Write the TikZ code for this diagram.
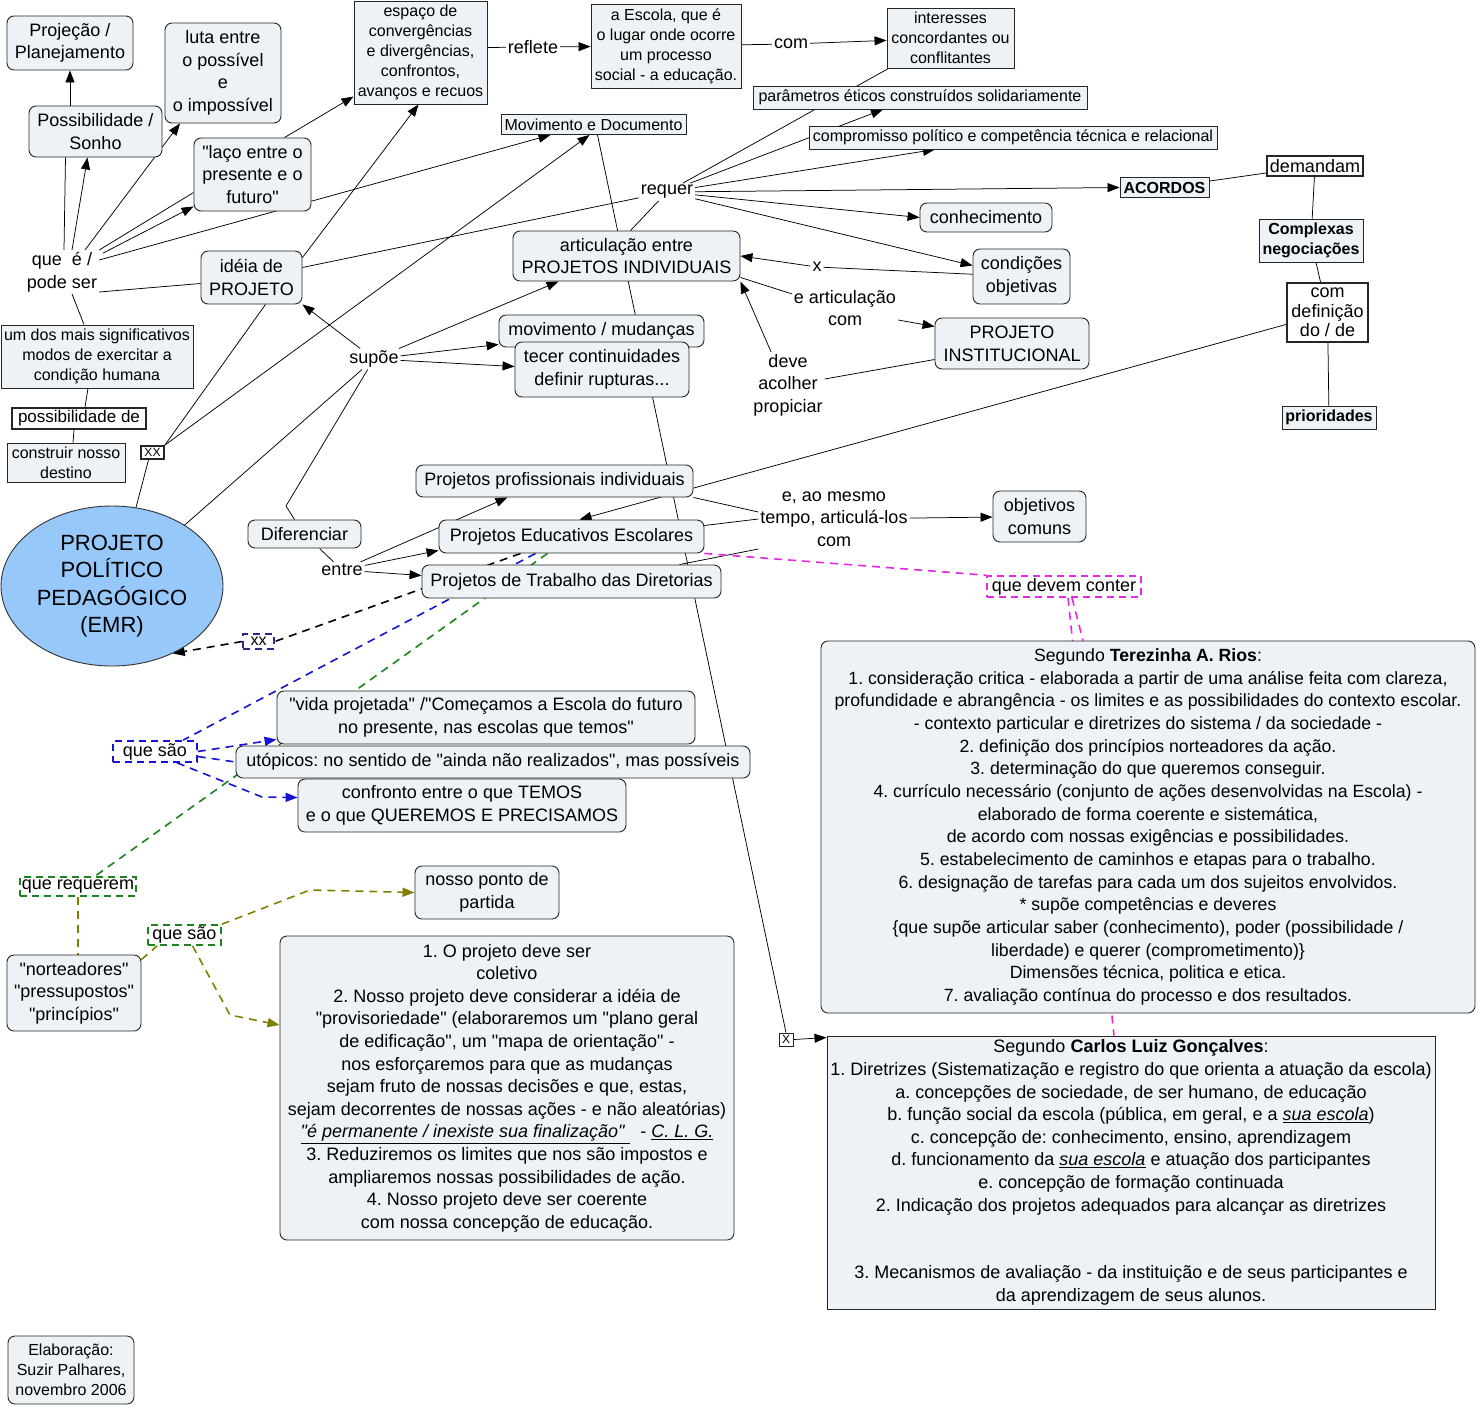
\documentclass[tikz,border=0pt]{standalone}
\usepackage{fontspec}
\setmainfont{Liberation Sans}
\usetikzlibrary{arrows.meta,shapes.geometric}
\pgfdeclarelayer{bg}
\pgfsetlayers{bg,main}
\frenchspacing
\definecolor{nfill}{RGB}{236,242,245}
\definecolor{pppfill}{RGB}{150,200,250}
\definecolor{dblue}{RGB}{20,20,210}
\definecolor{dgreen}{RGB}{30,130,30}
\definecolor{dolive}{RGB}{128,128,0}
\definecolor{dmag}{RGB}{230,40,230}
\definecolor{dnavy}{RGB}{40,40,140}
\newcommand\myq{\textquotedbl}
\newcommand\myN{\fontsize{18}{22.6}\selectfont}
\newcommand\myS{\fontsize{16}{20}\selectfont}
\newcommand\myB{\fontsize{16}{19.5}\selectfont\bfseries}
\newcommand\myC{\fontsize{18}{19.5}\selectfont}
\newcommand\myP{\fontsize{17}{19}\selectfont}
\newcommand\myL{\fontsize{22}{27.5}\selectfont}
\newcommand\myT{\fontsize{17.7}{22.67}\selectfont}
\newcommand\myX{\fontsize{12}{13}\selectfont}
\tikzset{
 base/.style={draw=black!85, line width=0.9pt, fill=nfill, align=center, inner sep=2pt, font=\myN},
 rbox/.style={base, rounded corners=7pt},
 sbox/.style={base},
 tbox/.style={base, fill=white, line width=2.2pt},
 lbl/.style={align=center, inner sep=2pt, font=\myN},
 dbox/.style={draw=#1, dash pattern=on 7pt off 5pt, line width=1.6pt, fill=white, inner sep=1pt, font=\myN},
 ln/.style={draw=black, line width=0.75pt},
 ar/.style={ln, -{Triangle[length=12pt,width=9pt]}},
 dl/.style={draw=#1, line width=1.6pt, dash pattern=on 8pt off 6pt},
 da/.style={dl=#1, -{Triangle[length=12pt,width=9pt]}},
}
\begin{document}
\begin{tikzpicture}[x=1pt,y=-1pt]
\useasboundingbox (0,0) rectangle (1478,1406);
% ---------- nodes ----------
\node[rbox, minimum width=126, minimum height=54] (proj) at (70,43) {Projeção /\\Planejamento};
\node[rbox, minimum width=116, minimum height=100] (luta) at (223,73) {luta entre\\o possível\\e\\o impossível};
\node[sbox, font=\myS, minimum width=133, minimum height=103] (espaco) at (420.5,52.5) {espaço de\\convergências\\e divergências,\\confrontos,\\avanços e recuos};
\node[lbl] (reflete) at (533,47) {reflete};
\node[sbox, font=\myS, minimum width=150, minimum height=84] (escola) at (666,46) {a Escola, que é\\o lugar onde ocorre\\um processo\\social - a educação.};
\node[lbl] (com1) at (791,44) {com};
\node[sbox, font=\myS, minimum width=127, minimum height=60] (interesses) at (950.5,38) {interesses\\concordantes ou\\conflitantes};
\node[sbox, font=\myS, minimum width=334, minimum height=23] (param) at (920,97.5) {parâmetros éticos construídos solidariamente};
\node[sbox, font=\myS, minimum width=185, minimum height=20] (movdoc) at (593.5,124.5) {Movimento e Documento};
\node[sbox, font=\myS, minimum width=408, minimum height=23] (comprom) at (1013,137.5) {compromisso político e competência técnica e relacional};
\node[rbox, minimum width=133, minimum height=51] (possib) at (95.5,131.5) {Possibilidade /\\Sonho};
\node[rbox, minimum width=117, minimum height=73] (laco) at (252.5,174.5) {\myq laço entre o\\presente e o\\futuro\myq};
\node[lbl] (requer) at (667,192) {requer};
\node[sbox, font=\myB, minimum width=89, minimum height=20] (acordos) at (1164.5,187.5) {ACORDOS};
\node[tbox, minimum width=96, minimum height=20] (demandam) at (1315,166) {demandam};
\node[sbox, font=\myB, minimum width=104, minimum height=43] (complexas) at (1311,240.5) {Complexas\\negociações};
\node[tbox, font=\myC, minimum width=81, minimum height=59] (comdef) at (1327.5,312.5) {com\\definição\\do / de};
\node[sbox, font=\myB, minimum width=94, minimum height=23] (prior) at (1329,417.5) {prioridades};
\node[rbox, minimum width=132, minimum height=29] (conhec) at (986,217.5) {conhecimento};
\node[rbox, minimum width=97, minimum height=55] (condic) at (1021.5,276.5) {condições\\objetivas};
\node[rbox, minimum width=227, minimum height=50] (artic) at (626.5,256) {articulação entre\\PROJETOS INDIVIDUAIS};
\node[lbl] (quee) at (62,272) {que~~é /\\pode ser};
\node[rbox, minimum width=101, minimum height=53] (ideia) at (251.5,277.5) {idéia de\\PROJETO};
\node[lbl] (xlbl) at (817,267) {x};
\node[lbl] (eartic) at (845,308) {e articulação\\com};
\node[rbox, minimum width=154, minimum height=51] (projinst) at (1012,343.5) {PROJETO\\INSTITUCIONAL};
\node[lbl] (deve) at (788,385) {deve\\acolher\\propiciar};
\node[rbox, minimum width=205, minimum height=32] (movmud) at (601.5,331) {movimento / mudanças};
\node[rbox, minimum width=174, minimum height=55] (tecer) at (602,369.5) {tecer continuidades\\definir rupturas...};
\node[lbl] (supoe) at (374,359) {supõe};
\node[sbox, font=\myS, minimum width=192, minimum height=63] (umdos) at (97,356.5) {um dos mais significativos\\modos de exercitar a\\condição humana};
\node[tbox, font=\myP, minimum width=134, minimum height=21] (possde) at (79,418.5) {possibilidade de};
\node[sbox, font=\myS, minimum width=118, minimum height=39] (construir) at (66,462.5) {construir nosso\\destino};
\node[tbox, font=\myX, line width=1.8pt, minimum width=23, minimum height=13, inner sep=0.5pt] (XX) at (152.5,452.5) {XX};
\node[ellipse, draw=black!80, line width=0.9pt, fill=pppfill, minimum width=222, minimum height=160, align=center, font=\myL, inner sep=0pt] (ppp) at (112,586) {PROJETO\\POLÍTICO\\PEDAGÓGICO\\(EMR)};
\node[rbox, minimum width=277, minimum height=32] (profis) at (554.5,481) {Projetos profissionais individuais};
\node[rbox, minimum width=113, minimum height=28] (difer) at (304.5,534) {Diferenciar};
\node[lbl] (eaomesmo) at (834,519) {e, ao mesmo\\tempo, articulá-los\\com};
\node[rbox, minimum width=93, minimum height=51] (objet) at (1039.5,516.5) {objetivos\\comuns};
\node[rbox, minimum width=265, minimum height=33] (educ) at (571.5,536.5) {Projetos Educativos Escolares};
\node[lbl] (entre) at (342,570) {entre};
\node[rbox, minimum width=299, minimum height=33] (trab) at (571.5,581.5) {Projetos de Trabalho das Diretorias};
\node[dbox=dmag, minimum width=154, minimum height=21] (devem) at (1064,586.5) {que devem conter};
\node[dbox=dnavy, font=\myS, minimum width=31, minimum height=15] (xx2) at (258.5,641.5) {xx};
\node[rbox, minimum width=418, minimum height=53] (vida) at (486,717.5) {\myq vida projetada\myq{} /\myq Começamos a Escola do futuro\\no presente, nas escolas que temos\myq};
\node[dbox=dblue, minimum width=84, minimum height=21] (quesao1) at (155,751.5) {que são};
\node[rbox, minimum width=514, minimum height=32] (utop) at (493,762) {utópicos: no sentido de \myq ainda não realizados\myq, mas possíveis};
\node[rbox, minimum width=328, minimum height=53] (confr) at (462,805.5) {confronto entre o que TEMOS\\e o que QUEREMOS E PRECISAMOS};
\node[dbox=dgreen, minimum width=116, minimum height=19] (quereq) at (78,886.5) {que requerem};
\node[rbox, minimum width=144, minimum height=53] (ponto) at (487,892.5) {nosso ponto de\\partida};
\node[dbox=dgreen, minimum width=73, minimum height=20] (quesao2) at (184.5,935) {que são};
\node[rbox, minimum width=134, minimum height=76] (nortea) at (74,993) {\myq norteadores\myq\\\myq pressupostos\myq\\\myq princípios\myq};
\node[rbox, minimum width=454, minimum height=304] (lista) at (507,1088) {1. O projeto deve ser\\coletivo\\2. Nosso projeto deve considerar a idéia de\\\myq provisoriedade\myq{} (elaboraremos um \myq plano geral\\de edificação\myq, um \myq mapa de orientação\myq{} -\\nos esforçaremos para que as mudanças\\sejam fruto de nossas decisões e que, estas,\\sejam decorrentes de nossas ações - e não aleatórias)\\\underline{\textit{\myq é permanente / inexiste sua finalização\myq~}}~ - \underline{\textit{C. L. G.}}\\3. Reduziremos os limites que nos são impostos e\\ampliaremos nossas possibilidades de ação.\\4. Nosso projeto deve ser coerente\\com nossa concepção de educação.};
\node[rbox, font=\myT, minimum width=654, minimum height=372] (terez) at (1148,827) {Segundo \textbf{Terezinha A. Rios}:\\1. consideração critica - elaborada a partir de uma análise feita com clareza,\\profundidade e abrangência - os limites e as possibilidades do contexto escolar.\\- contexto particular e diretrizes do sistema / da sociedade -\\2. definição dos princípios norteadores da ação.\\3. determinação do que queremos conseguir.\\4. currículo necessário (conjunto de ações desenvolvidas na Escola) -\\elaborado de forma coerente e sistemática,\\de acordo com nossas exigências e possibilidades.\\5. estabelecimento de caminhos e etapas para o trabalho.\\6. designação de tarefas para cada um dos sujeitos envolvidos.\\{}* supõe competências e deveres\\\{que supõe articular saber (conhecimento), poder (possibilidade /\\liberdade) e querer (comprometimento)\}\\Dimensões técnica, politica e etica.\\7. avaliação contínua do processo e dos resultados.};
\node[sbox, fill=white, font=\myX, line width=0.8pt, minimum width=14, minimum height=13, inner sep=0.5pt] (Xbox) at (786,1039.5) {X};
\node[sbox, minimum width=608, minimum height=273] (carlos) at (1131,1172.5) {Segundo \textbf{Carlos Luiz Gonçalves}:\\1. Diretrizes (Sistematização e registro do que orienta a atuação da escola)\\a. concepções de sociedade, de ser humano, de educação\\b. função social da escola (pública, em geral, e a \underline{\textit{sua escola}})\\c. concepção de: conhecimento, ensino, aprendizagem\\d. funcionamento da \underline{\textit{sua escola}} e atuação dos participantes\\e. concepção de formação continuada\\2. Indicação dos projetos adequados para alcançar as diretrizes\\\mbox{}\\\mbox{}\\3. Mecanismos de avaliação - da instituição e de seus participantes e\\da aprendizagem de seus alunos.};
\node[rbox, font=\myS, minimum width=126, minimum height=68] (elab) at (71,1370) {Elaboração:\\Suzir Palhares,\\novembro 2006};
\coordinate (k1) at (286,506);
\coordinate (k2) at (262,797);
\coordinate (k3) at (310,890);
\coordinate (k4) at (230,1015);
% ---------- connectors ----------
\begin{pgfonlayer}{bg}
\fill[white] (0,0) rectangle (1478,1406);
\draw[ar] (proj.south |- possib.north) -- (proj.south);
\draw[ln] ([xshift=2pt]quee.north) -- ([xshift=-30pt]possib.south);
\draw[ar] ([xshift=10pt]quee.north) -- ([xshift=-8pt]possib.south);
\draw[ar] ([xshift=23pt]quee.north) -- ([xshift=-43pt]luta.south);
\draw[ln] (quee.north east) -- ([yshift=-18pt]laco.west);
\draw[ar] ([xshift=4pt,yshift=-3pt]quee.north east) -- ([yshift=5pt]laco.south west);
\draw[ar] ([yshift=12pt]quee.east) -- ([xshift=-43pt]movdoc.south);
\draw[ln] ([yshift=-20pt]quee.east) -- ([yshift=-6pt]ideia.west);
\draw[ln] ([xshift=10pt]quee.south) -- ([xshift=-13pt]umdos.north);
\draw[ln] ([xshift=-9pt]umdos.south) -- ([xshift=6pt]possde.north);
\draw[ln] ([xshift=-5pt]possde.south) -- ([xshift=7pt]construir.north);
\draw[ar] ([yshift=-7pt]ideia.north east) -- ([xshift=-2pt]espaco.south);
\draw[ar] ([xshift=32pt]laco.north) -- ([yshift=-44pt]espaco.west);
\draw[ln] ([yshift=5pt]espaco.east) -- (reflete);
\draw[ar] (reflete) -- (escola);
\draw[ln] (escola) -- (com1);
\draw[ar] (com1) -- (interesses);
\draw[ln] (requer) -- ([xshift=-62pt]interesses.south);
\draw[ar] (requer) -- ([xshift=-37pt]param.south);
\draw[ar] (requer) -- ([xshift=-78pt]comprom.south);
\draw[ar] (requer) -- (acordos.west);
\draw[ar] (requer) -- (conhec.west);
\draw[ar] (requer) -- ([yshift=11pt]condic.west);
\draw[ln] ([yshift=10pt]ideia.east) -- (requer);
\draw[ln] ([xshift=4pt]artic.north) -- (requer);
\draw[ln] (acordos) -- (demandam);
\draw[ln] (demandam) -- (complexas);
\draw[ln] (complexas) -- (comdef);
\draw[ln] (comdef) -- (prior);
\draw[ar] ([yshift=-12pt]comdef.west) -- ([xshift=8pt]educ.north);
\draw[ln] (condic) -- (xlbl);
\draw[ar] (xlbl) -- (artic.east);
\draw[ln] ([yshift=4pt]artic.south east) -- ([yshift=-6pt]eartic.north west);
\draw[ar] ([yshift=-12pt]eartic.east) -- ([yshift=17pt]projinst.west);
\draw[ln] ([yshift=-16pt]projinst.west) -- ([yshift=6pt]deve.east);
\draw[ar] ([xshift=-17pt]deve.north) -- (artic.south east);
\draw[ln] ([xshift=4pt]movdoc.south) -- (Xbox.north);
\draw[ar] (Xbox.east) -- ([yshift=-2pt]carlos.north west);
\draw[ln] ([xshift=14pt]ideia.south) -- (XX.north east);
\draw[ar] (XX.north east) -- ([xshift=-4pt]movdoc.south);
\draw[ln] (ppp.73) -- ([xshift=-4pt]XX.south);
\draw[ar] (supoe) -- (ideia.south east);
\draw[ar] (supoe) -- ([xshift=-68pt]artic.south);
\draw[ar] (supoe) -- ([yshift=3pt]movmud.south west);
\draw[ar] (supoe) -- ([yshift=3pt]tecer.west);
\draw[ln] (ppp.40) -- (supoe);
\draw[ln] (supoe) -- (k1) -- ([xshift=-10pt]difer.north);
\draw[ln] (difer) -- (entre);
\draw[ar] (entre) -- ([xshift=-47pt]profis.south);
\draw[ar] (entre) -- ([yshift=3pt]educ.south west);
\draw[ar] (entre) -- ([yshift=6pt]trab.west);
\draw[ln] (profis.south east) -- ([yshift=7pt]eaomesmo.west);
\draw[ln] ([yshift=11pt]educ.east) -- (eaomesmo.west);
\draw[ln] ([xshift=108pt]trab.north) -- ([yshift=-30pt]eaomesmo.west);
\draw[ar] (eaomesmo) -- (objet);
% dashed
\draw[dl=black] ([xshift=-51pt]educ.south) -- (xx2.east);
\draw[da=black] (xx2.west) -- (ppp.-48);
\draw[dl=dblue] ([xshift=-36pt]educ.south) -- ([xshift=28pt]quesao1.north);
\draw[da=dblue] (quesao1.east) -- ([yshift=-22pt]vida.west);
\draw[dl=dblue] ([yshift=-5pt]quesao1.east) -- (utop.west);
\draw[da=dblue] ([xshift=22pt]quesao1.south) -- (k2) -- ([yshift=8pt]confr.west);
\draw[dl=dgreen] ([xshift=-24pt]educ.south) -- ([xshift=17pt]quereq.north);
\draw[dl=dolive] (quereq.south) -- (nortea.north -| quereq.south);
\draw[dl=dolive] ([yshift=-5pt]nortea.north east) -- ([xshift=10pt]quesao2.south west);
\draw[da=dolive] (quesao2.north east) -- (k3) -- (ponto.west);
\draw[da=dolive] ([xshift=8pt]quesao2.south) -- (k4) -- ([yshift=63pt]lista.west);
\draw[dl=dmag] (educ.south east) -- (devem.north west);
\draw[dl=dmag] ([xshift=8pt]devem.south) -- ([xshift=-65pt]terez.north);
\draw[dl=dmag] ([xshift=4pt]devem.south) -- ([xshift=-17pt]carlos.north);
\end{pgfonlayer}
\end{tikzpicture}
\end{document}
